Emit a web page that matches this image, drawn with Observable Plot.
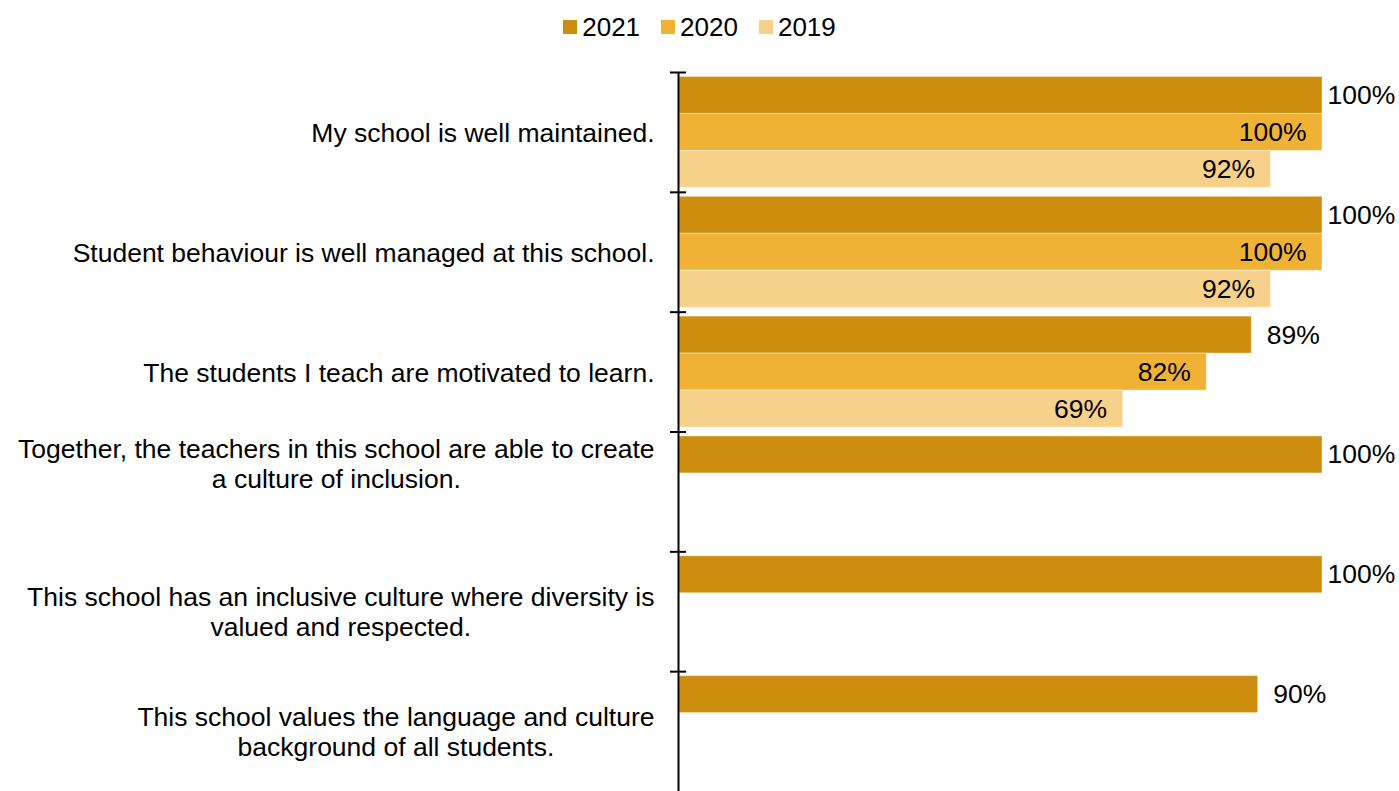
<!DOCTYPE html>
<html>
<head>
<meta charset="utf-8">
<script src="https://cdn.jsdelivr.net/npm/d3@7"></script>
<script src="https://cdn.jsdelivr.net/npm/@observablehq/plot@0.6"></script>
<style>
  html, body { margin: 0; padding: 0; background: #fff; overflow: hidden; }
  body { font-family: "Liberation Sans", Arial, sans-serif; color: #000; }
  #legend { height: 50px; box-sizing: border-box; padding-top: 4px; display: flex; justify-content: center; align-items: center; gap: 21px; font-size: 26px; }
  #legend .item { display: flex; align-items: center; gap: 5px; }
  #legend .sw { width: 14px; height: 14px; display: inline-block; }
  #chart svg { display: block; }
</style>
</head>
<body>
<div id="legend"></div>
<div id="chart"></div>
<script>
// ---- data ----
const categories = [
  "My school is well maintained.",
  "Student behaviour is well managed at this school.",
  "The students I teach are motivated to learn.",
  "Together, the teachers in this school are able to create\na culture of inclusion.",
  "This school has an inclusive culture where diversity is\nvalued and respected.",
  "This school values the language and culture\nbackground of all students."
];
const years = ["2021", "2020", "2019"];
const values2021 = [100, 100, 89, 100, 100, 90];
const values2020 = [100, 100, 82, null, null, null];
const values2019 = [92, 92, 69, null, null, null];
const colors = ["#CD8E10", "#F0B234", "#F7D089"];

const series = {"2021": values2021, "2020": values2020, "2019": values2019};
const rows = years.flatMap(y => categories.map((c, i) => ({category: c, year: y, value: series[y][i]})))
  .filter(d => d.value != null);

// ---- legend ----
const legend = document.getElementById("legend");
years.forEach((y, i) => {
  const item = document.createElement("div");
  item.className = "item";
  const sw = document.createElement("span");
  sw.className = "sw";
  sw.style.background = colors[i];
  const t = document.createElement("span");
  t.textContent = y;
  item.append(sw, t);
  legend.append(item);
});

// ---- layout ----
const W = 1399, H = 741, mT = 22, mB = 0, mL = 679, mR = 77;
const padOuter = 0.12;
const facetH = (H - mT - mB) / categories.length;
const step = facetH / (years.length + 2 * padOuter);
const tickDy = -(step / 2 + padOuter * step);
const fontSize = 26.5;

const common = {fy: "category", y: "year", x: "value", text: d => `${d.value}%`, fontSize};

const plot = Plot.plot({
  width: W, height: H,
  marginTop: mT, marginBottom: mB, marginLeft: mL, marginRight: mR,
  style: {fontFamily: "'Liberation Sans', Arial, sans-serif", fontSize: `${fontSize}px`, color: "#000", background: "#fff", overflow: "visible"},
  x: {domain: [0, 100], axis: null},
  y: {domain: years, paddingInner: 0, paddingOuter: padOuter, round: false, axis: null},
  fy: {domain: categories, padding: 0, round: false, axis: null},
  color: {domain: years, range: colors},
  marks: [
    Plot.barX(rows, {fy: "category", y: "year", x: "value", fill: "year", stroke: "#fff", strokeOpacity: 0.4, strokeWidth: 1}),
    Plot.text(rows.filter(d => d.year === years[0] && d.value < 100), {...common, textAnchor: "start", dx: 15, fill: "#000"}),
    Plot.text(rows.filter(d => d.year === years[0] && d.value >= 100), {...common, textAnchor: "start", dx: 5, fill: "#000"}),
    Plot.text(rows.filter(d => d.year !== years[0]), {...common, textAnchor: "end", dx: -16, fill: "#000"}),
    Plot.ruleX([0], {stroke: "#000", strokeWidth: 2, dx: -1}),
    Plot.ruleY([years[0]], {y: d => d, x1: -1.4, x2: 1.1, dy: tickDy, stroke: "#000", strokeWidth: 2}),
    Plot.text(categories.filter((c, i) => i !== 3), {fy: d => d, text: d => d, frameAnchor: "left", textAnchor: "end", dx: -25, lineHeight: 30 / fontSize, fontSize, fill: "#000"}),
    Plot.text([categories[3]], {fy: d => d, text: d => d, frameAnchor: "left", textAnchor: "end", dx: -25, dy: -29, lineHeight: 30 / fontSize, fontSize, fill: "#000"})
  ]
});

document.getElementById("chart").append(plot);

// Center multi-line category labels on their own block (as in the source chart)
plot.querySelectorAll("text").forEach(t => {
  const spans = t.querySelectorAll("tspan");
  if (spans.length > 1) {
    let w = 0;
    spans.forEach(s => { w = Math.max(w, s.getComputedTextLength()); });
    t.setAttribute("text-anchor", "middle");
    spans.forEach(s => s.setAttribute("x", -w / 2));
  }
});
</script>
</body>
</html>
